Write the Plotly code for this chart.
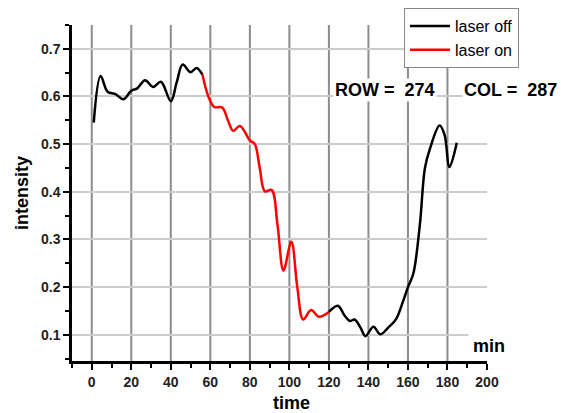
import plotly.graph_objects as go

# ---- data ----
t_off1 = [1, 4.5, 8, 12, 16, 20, 23, 27, 31, 35, 40, 43, 46, 50, 53, 56]
v_off1 = [0.545, 0.643, 0.61, 0.605, 0.594, 0.612, 0.617, 0.634, 0.620, 0.631,
          0.590, 0.630, 0.667, 0.651, 0.660, 0.646]

t_on = [56, 59, 62, 66, 69, 71.5, 75, 80, 82.5, 85, 87.6, 91, 94, 97, 101,
        104, 107, 111, 115, 120]
v_on = [0.646, 0.600, 0.578, 0.577, 0.549, 0.528, 0.538, 0.508, 0.500, 0.45,
        0.401, 0.404, 0.33, 0.235, 0.295, 0.2, 0.132, 0.152, 0.138, 0.148]

t_off2 = [120, 124.5, 128, 130.6, 133, 136, 138.5, 142.5, 146, 150, 154, 157.5,
          160, 162.7, 166, 168.6, 171.1, 176, 178.5, 181, 184.7]
v_off2 = [0.148, 0.161, 0.14, 0.129, 0.132, 0.115, 0.097, 0.117, 0.101, 0.115,
          0.133, 0.17, 0.2, 0.228, 0.33, 0.45, 0.49, 0.539, 0.52, 0.452, 0.503]

x_ticks = [0, 20, 40, 60, 80, 100, 120, 140, 160, 180, 200]
x_grid = [0, 20, 40, 60, 80, 100, 120, 140, 160, 180]
y_ticks = [0.1, 0.2, 0.3, 0.4, 0.5, 0.6, 0.7]

FONT = "Liberation Sans, Arial, sans-serif"
W, H = 561, 413
L, R, T, B = 72, 74, 25, 52
PW, PH = W - L - R, H - T - B


def px(xp):
    return (xp - L) / PW


def py(yp):
    return (H - B - yp) / PH


fig = go.Figure()
fig.add_trace(go.Scatter(x=t_off1, y=v_off1, mode="lines", name="laser off",
                         line=dict(color="black", width=2.5, shape="spline", smoothing=1),
                         legendgroup="off"))
fig.add_trace(go.Scatter(x=t_on, y=v_on, mode="lines", name="laser on",
                         line=dict(color="#ff0000", width=2.5, shape="spline", smoothing=1)))
fig.add_trace(go.Scatter(x=t_off2, y=v_off2, mode="lines", name="laser off",
                         line=dict(color="black", width=2.5, shape="spline", smoothing=1),
                         legendgroup="off", showlegend=False))

shapes = []
for gx in x_grid:
    shapes.append(dict(type="line", xref="x", yref="paper", x0=gx, x1=gx, y0=0, y1=1,
                       line=dict(color="#8c8c8c", width=2), layer="below"))

axis_common = dict(
    showline=True, linecolor="black", linewidth=2.5,
    ticks="outside", ticklen=6, tickwidth=2, tickcolor="black",
    tickfont=dict(family=FONT, size=14, color="#222", weight="bold"),
    zeroline=False, automargin=False,
)

fig.update_layout(
    width=W, height=H,
    margin=dict(l=L, r=R, t=T, b=B, autoexpand=False),
    plot_bgcolor="white", paper_bgcolor="white",
    shapes=shapes,
    xaxis=dict(range=[-10, 200], tickvals=x_ticks, showgrid=False,
               minor=dict(dtick=10, tick0=0, ticks="outside", ticklen=4, tickwidth=2,
                          tickcolor="black", showgrid=False),
               **axis_common),
    yaxis=dict(range=[0.045, 0.75], tickvals=y_ticks, showgrid=True,
               gridcolor="#cccccc", gridwidth=1.5, tickformat=".1f",
               minor=dict(dtick=0.05, tick0=0.05, ticks="outside", ticklen=4, tickwidth=2,
                          tickcolor="black", showgrid=False),
               **axis_common),
    legend=dict(x=px(404), y=py(8), xanchor="left", yanchor="top",
                bgcolor="white", bordercolor="#888888", borderwidth=1,
                font=dict(family=FONT, size=16, color="black"),
                tracegroupgap=0, itemwidth=40),
    showlegend=True,
    annotations=[
        dict(text="time", xref="paper", yref="paper", x=px(291), y=py(403),
             showarrow=False, xanchor="center", yanchor="middle",
             font=dict(family=FONT, size=18, color="black", weight="bold")),
        dict(text="intensity", xref="paper", yref="paper", x=px(22), y=0.5,
             textangle=-90, showarrow=False, xanchor="center", yanchor="middle",
             font=dict(family=FONT, size=18, color="black", weight="bold")),
        dict(text="min", xref="paper", yref="paper", x=px(489), y=py(346),
             showarrow=False, xanchor="center", yanchor="middle", bgcolor="white",
             borderpad=4,
             font=dict(family=FONT, size=18, color="black", weight="bold")),
        dict(text="ROW =\u00a0\u00a0274", xref="paper", yref="paper", x=px(385),
             y=py(90), showarrow=False, xanchor="center", yanchor="middle",
             bgcolor="white", font=dict(family=FONT, size=18, color="black", weight="bold")),
        dict(text="COL =\u00a0\u00a0287", xref="paper", yref="paper", x=px(510),
             y=py(90), showarrow=False, xanchor="center", yanchor="middle",
             bgcolor="white", font=dict(family=FONT, size=18, color="black", weight="bold")),
    ],
)

fig.write_html("out.html", config={"displayModeBar": False},
               post_script="document.body.style.margin='0';document.body.style.overflow='hidden';")
